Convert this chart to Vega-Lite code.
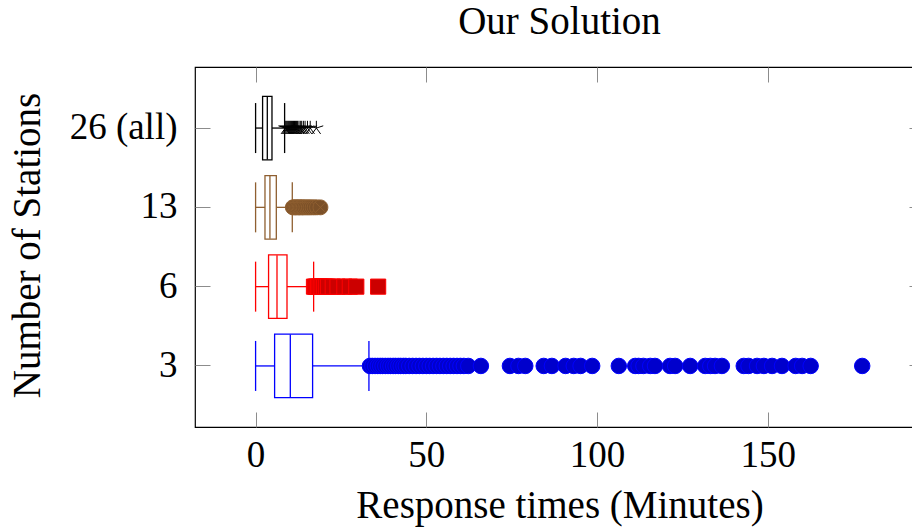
{
  "$schema": "https://vega.github.io/schema/vega-lite/v6.json",
  "width": 729,
  "height": 360,
  "autosize": {"type": "none"},
  "padding": {"left": 195, "top": 67, "right": -12, "bottom": 100},
  "title": {"text": "Our Solution", "font": "Liberation Serif", "fontSize": 39, "fontWeight": "normal", "color": "black", "baseline": "alphabetic", "offset": -6},
  "config": {
    "view": {"stroke": "black", "strokeWidth": 1.2},
    "font": "Liberation Serif",
    "axis": {"labelFont": "Liberation Serif", "titleFont": "Liberation Serif", "labelFontSize": 37, "titleFontSize": 39, "titleFontWeight": "normal", "labelColor": "black", "titleColor": "black", "domain": false, "grid": false, "tickColor": "#8c8c8c", "tickSize": -15, "tickWidth": 1}
  },
  "datasets": {
    "summary": [
      {"station": "3", "lower": 0, "q1": 5.57, "median": 10.17, "q3": 16.7, "upper": 33.2},
      {"station": "6", "lower": 0, "q1": 3.8, "median": 6.27, "q3": 9.2, "upper": 17.0},
      {"station": "13", "lower": 0, "q1": 2.75, "median": 4.2, "q3": 6.07, "upper": 10.75},
      {"station": "26 (all)", "lower": 0, "q1": 2.05, "median": 3.43, "q3": 4.8, "upper": 8.5}
    ],
    "outliers": [
      {"station": "3", "value": 33.5}, {"station": "3", "value": 34.2}, {"station": "3", "value": 35.0}, {"station": "3", "value": 35.8},
      {"station": "3", "value": 36.5}, {"station": "3", "value": 37.2}, {"station": "3", "value": 38.0}, {"station": "3", "value": 38.8},
      {"station": "3", "value": 39.5}, {"station": "3", "value": 40.3}, {"station": "3", "value": 41.0}, {"station": "3", "value": 41.8},
      {"station": "3", "value": 42.5}, {"station": "3", "value": 43.3}, {"station": "3", "value": 44.0}, {"station": "3", "value": 45.0},
      {"station": "3", "value": 46.0}, {"station": "3", "value": 47.0}, {"station": "3", "value": 48.0}, {"station": "3", "value": 49.0},
      {"station": "3", "value": 50.0}, {"station": "3", "value": 51.0}, {"station": "3", "value": 52.0}, {"station": "3", "value": 53.0},
      {"station": "3", "value": 54.0}, {"station": "3", "value": 55.0}, {"station": "3", "value": 56.0}, {"station": "3", "value": 57.0},
      {"station": "3", "value": 58.0}, {"station": "3", "value": 59.0}, {"station": "3", "value": 60.0}, {"station": "3", "value": 61.0},
      {"station": "3", "value": 62.3}, {"station": "3", "value": 66.0}, {"station": "3", "value": 74.5}, {"station": "3", "value": 77.0},
      {"station": "3", "value": 79.0}, {"station": "3", "value": 84.4}, {"station": "3", "value": 86.8}, {"station": "3", "value": 90.8},
      {"station": "3", "value": 93.2}, {"station": "3", "value": 95.2}, {"station": "3", "value": 98.6}, {"station": "3", "value": 106.4},
      {"station": "3", "value": 111.2}, {"station": "3", "value": 112.2}, {"station": "3", "value": 113.6}, {"station": "3", "value": 115.6},
      {"station": "3", "value": 117.0}, {"station": "3", "value": 121.4}, {"station": "3", "value": 122.9}, {"station": "3", "value": 127.3},
      {"station": "3", "value": 131.7}, {"station": "3", "value": 133.2}, {"station": "3", "value": 134.6}, {"station": "3", "value": 136.6},
      {"station": "3", "value": 143.0}, {"station": "3", "value": 144.4}, {"station": "3", "value": 146.9}, {"station": "3", "value": 148.9},
      {"station": "3", "value": 151.3}, {"station": "3", "value": 154.2}, {"station": "3", "value": 158.2}, {"station": "3", "value": 160.1},
      {"station": "3", "value": 162.6}, {"station": "3", "value": 177.7},
      {"station": "6", "value": 17.1}, {"station": "6", "value": 17.5}, {"station": "6", "value": 17.9}, {"station": "6", "value": 18.3},
      {"station": "6", "value": 18.7}, {"station": "6", "value": 19.1}, {"station": "6", "value": 19.6}, {"station": "6", "value": 20.1},
      {"station": "6", "value": 20.6}, {"station": "6", "value": 21.2}, {"station": "6", "value": 22.6}, {"station": "6", "value": 24.0},
      {"station": "6", "value": 26.0}, {"station": "6", "value": 27.6}, {"station": "6", "value": 29.5}, {"station": "6", "value": 35.9},
      {"station": "13", "value": 10.9}, {"station": "13", "value": 11.3}, {"station": "13", "value": 11.7}, {"station": "13", "value": 12.1},
      {"station": "13", "value": 12.5}, {"station": "13", "value": 12.9}, {"station": "13", "value": 13.3}, {"station": "13", "value": 13.7},
      {"station": "13", "value": 14.1}, {"station": "13", "value": 14.6}, {"station": "13", "value": 15.1}, {"station": "13", "value": 15.6},
      {"station": "13", "value": 16.1}, {"station": "13", "value": 16.7}, {"station": "13", "value": 17.3}, {"station": "13", "value": 18.0},
      {"station": "13", "value": 19.0},
      {"station": "26 (all)", "value": 8.7}, {"station": "26 (all)", "value": 9.0}, {"station": "26 (all)", "value": 9.3}, {"station": "26 (all)", "value": 9.6},
      {"station": "26 (all)", "value": 9.9}, {"station": "26 (all)", "value": 10.2}, {"station": "26 (all)", "value": 10.5}, {"station": "26 (all)", "value": 10.8},
      {"station": "26 (all)", "value": 11.1}, {"station": "26 (all)", "value": 11.4}, {"station": "26 (all)", "value": 11.7}, {"station": "26 (all)", "value": 12.0},
      {"station": "26 (all)", "value": 12.3}, {"station": "26 (all)", "value": 12.7}, {"station": "26 (all)", "value": 13.1}, {"station": "26 (all)", "value": 13.5},
      {"station": "26 (all)", "value": 14.0}, {"station": "26 (all)", "value": 14.5}, {"station": "26 (all)", "value": 15.2}, {"station": "26 (all)", "value": 16.0},
      {"station": "26 (all)", "value": 17.8}
    ]
  },
  "resolve": {"axis": {"x": "independent", "y": "independent"}},
  "layer": [
    {
      "data": {"name": "summary"},
      "mark": {"type": "rule", "strokeWidth": 1.3},
      "encoding": {
        "x": {"field": "lower", "type": "quantitative", "scale": {"domain": [-17.75, 195.8], "nice": false, "zero": false},
              "axis": {"orient": "bottom", "values": [0, 50, 100, 150], "title": "Response times (Minutes)", "labelPadding": 25, "titleY": 90, "titleBaseline": "alphabetic", "labelFlush": false}},
        "x2": {"field": "q1"},
        "y": {"field": "station", "type": "nominal", "scale": {"type": "band", "domain": ["26 (all)", "13", "6", "3"], "paddingInner": 0, "paddingOuter": 0.27},
              "axis": {"orient": "left", "title": "Number of Stations", "labelPadding": 33, "labelAlign": "right", "labelBaseline": "middle", "titleX": -156, "titleY": 178, "titleAngle": 270, "titleAlign": "center", "titleBaseline": "alphabetic"}},
        "color": {"field": "station", "type": "nominal", "scale": {"domain": ["3", "6", "13", "26 (all)"], "range": ["#0000FF", "#FF0000", "#8F5F30", "#000000"]}, "legend": null}
      }
    },
    {
      "data": {"name": "summary"},
      "mark": {"type": "rule", "strokeWidth": 1.3},
      "encoding": {
        "x": {"field": "q3", "type": "quantitative", "scale": {"domain": [-17.75, 195.8], "nice": false, "zero": false},
              "axis": {"orient": "top", "values": [0, 50, 100, 150], "labels": false, "title": null}},
        "x2": {"field": "upper"},
        "y": {"field": "station", "type": "nominal", "scale": {"type": "band", "domain": ["26 (all)", "13", "6", "3"], "paddingInner": 0, "paddingOuter": 0.27},
              "axis": {"orient": "right", "labels": false, "title": null}},
        "color": {"field": "station", "type": "nominal", "scale": {"domain": ["3", "6", "13", "26 (all)"], "range": ["#0000FF", "#FF0000", "#8F5F30", "#000000"]}, "legend": null}
      }
    },
    {
      "data": {"name": "summary"},
      "mark": {"type": "rect", "height": {"band": 0.8}, "fill": "white", "strokeWidth": 1.3},
      "encoding": {
        "x": {"field": "q1", "type": "quantitative", "scale": {"domain": [-17.75, 195.8], "nice": false, "zero": false}, "axis": null},
        "x2": {"field": "q3"},
        "y": {"field": "station", "type": "nominal", "scale": {"type": "band", "domain": ["26 (all)", "13", "6", "3"], "paddingInner": 0, "paddingOuter": 0.27}, "axis": null},
        "stroke": {"field": "station", "type": "nominal", "scale": {"domain": ["3", "6", "13", "26 (all)"], "range": ["#0000FF", "#FF0000", "#8F5F30", "#000000"]}, "legend": null}
      }
    },
    {
      "data": {"name": "summary"},
      "mark": {"type": "tick", "size": 63, "thickness": 1.3, "opacity": 1},
      "encoding": {
        "x": {"field": "median", "type": "quantitative", "scale": {"domain": [-17.75, 195.8], "nice": false, "zero": false}, "axis": null},
        "y": {"field": "station", "type": "nominal", "scale": {"type": "band", "domain": ["26 (all)", "13", "6", "3"], "paddingInner": 0, "paddingOuter": 0.27}, "axis": null},
        "color": {"field": "station", "type": "nominal", "scale": {"domain": ["3", "6", "13", "26 (all)"], "range": ["#0000FF", "#FF0000", "#8F5F30", "#000000"]}, "legend": null}
      }
    },
    {
      "data": {"name": "summary"},
      "mark": {"type": "tick", "size": 50, "thickness": 1.3, "opacity": 1},
      "encoding": {
        "x": {"field": "lower", "type": "quantitative", "scale": {"domain": [-17.75, 195.8], "nice": false, "zero": false}, "axis": null},
        "y": {"field": "station", "type": "nominal", "scale": {"type": "band", "domain": ["26 (all)", "13", "6", "3"], "paddingInner": 0, "paddingOuter": 0.27}, "axis": null},
        "color": {"field": "station", "type": "nominal", "scale": {"domain": ["3", "6", "13", "26 (all)"], "range": ["#0000FF", "#FF0000", "#8F5F30", "#000000"]}, "legend": null}
      }
    },
    {
      "data": {"name": "summary"},
      "mark": {"type": "tick", "size": 50, "thickness": 1.3, "opacity": 1},
      "encoding": {
        "x": {"field": "upper", "type": "quantitative", "scale": {"domain": [-17.75, 195.8], "nice": false, "zero": false}, "axis": null},
        "y": {"field": "station", "type": "nominal", "scale": {"type": "band", "domain": ["26 (all)", "13", "6", "3"], "paddingInner": 0, "paddingOuter": 0.27}, "axis": null},
        "color": {"field": "station", "type": "nominal", "scale": {"domain": ["3", "6", "13", "26 (all)"], "range": ["#0000FF", "#FF0000", "#8F5F30", "#000000"]}, "legend": null}
      }
    },
    {
      "data": {"name": "outliers"},
      "mark": {"type": "point", "filled": true, "opacity": 1, "strokeWidth": 1, "strokeOpacity": 1, "fillOpacity": 1},
      "encoding": {
        "x": {"field": "value", "type": "quantitative", "scale": {"domain": [-17.75, 195.8], "nice": false, "zero": false}, "axis": null},
        "y": {"field": "station", "type": "nominal", "scale": {"type": "band", "domain": ["26 (all)", "13", "6", "3"], "paddingInner": 0, "paddingOuter": 0.27}, "axis": null},
        "fill": {"field": "station", "type": "nominal", "scale": {"domain": ["3", "6", "13", "26 (all)"], "range": ["#0000CC", "#CC0000", "#7B5028", "#000000"]}, "legend": null},
        "stroke": {"field": "station", "type": "nominal", "scale": {"domain": ["3", "6", "13", "26 (all)"], "range": ["#0000FF", "#FF0000", "#8F5F30", "#000000"]}, "legend": null},
        "shape": {"field": "station", "type": "nominal", "scale": {"domain": ["3", "6", "13", "26 (all)"], "range": ["circle", "square", "M1,0A1,1,0,1,1,-1,0A1,1,0,1,1,1,0Z M-0.707,-0.707L0.707,0.707M-0.707,0.707L0.707,-0.707", "M0,0L0,-1M0,0L0.951,-0.309M0,0L0.588,0.809M0,0L-0.588,0.809M0,0L-0.951,-0.309"]}, "legend": null},
        "size": {"field": "station", "type": "nominal", "scale": {"domain": ["3", "6", "13", "26 (all)"], "range": [240, 210, 256, 196]}, "legend": null}
      }
    }
  ]
}
